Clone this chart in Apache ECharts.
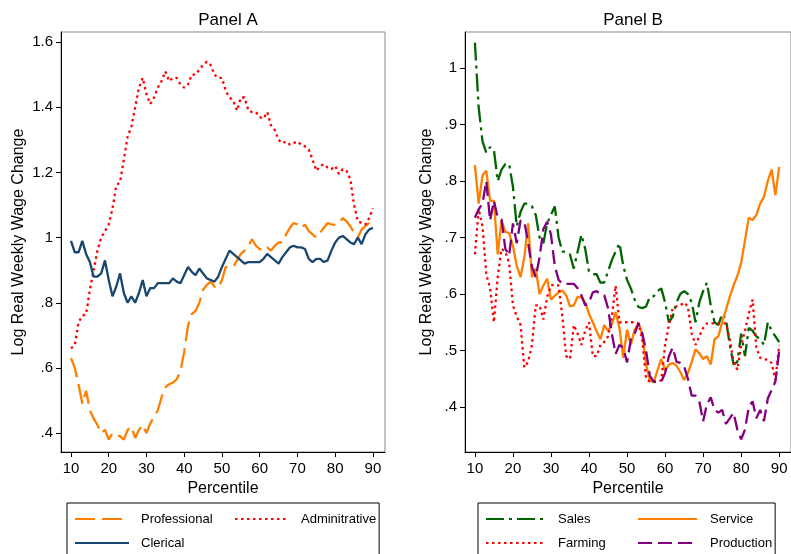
<!DOCTYPE html>
<html>
<head>
<meta charset="utf-8">
<script src="https://cdn.jsdelivr.net/npm/echarts@6/dist/echarts.min.js"></script>
<style>
  html, body { margin: 0; padding: 0; background: #fff; }
  #main { width: 791px; height: 554px; }
</style>
</head>
<body>
<div id="main"></div>
<script>
// percentiles on the x axis
var pct = [10, 11, 12, 13, 14, 15, 16, 17, 18, 19,
           20, 21, 22, 23, 24, 25, 26, 27, 28, 29,
           30, 31, 32, 33, 34, 35, 36, 37, 38, 39,
           40, 41, 42, 43, 44, 45, 46, 47, 48, 49,
           50, 51, 52, 53, 54, 55, 56, 57, 58, 59,
           60, 61, 62, 63, 64, 65, 66, 67, 68, 69,
           70, 71, 72, 73, 74, 75, 76, 77, 78, 79,
           80, 81, 82, 83, 84, 85, 86, 87, 88, 89, 90];

// Panel A
var professional = [0.63, 0.60, 0.55, 0.49, 0.53, 0.47, 0.445, 0.425, 0.40, 0.41,
    0.38, 0.40, 0.395, 0.39, 0.38, 0.41, 0.42, 0.385, 0.41, 0.425,
    0.40, 0.43, 0.45, 0.47, 0.51, 0.54, 0.55, 0.555, 0.565, 0.59,
    0.65, 0.73, 0.765, 0.775, 0.80, 0.84, 0.855, 0.865, 0.85, 0.845,
    0.87, 0.91, 0.91, 0.91, 0.93, 0.95, 0.96, 0.975, 0.995, 0.975,
    0.965, 0.96, 0.97, 0.96, 0.975, 0.985, 0.985, 1.01, 1.03, 1.045,
    1.04, 1.03, 1.04, 1.02, 1.01, 1.0, 1.015, 1.03, 1.045, 1.04,
    1.04, 1.045, 1.06, 1.05, 1.035, 1.015, 1.0, 1.025, 1.035, 1.045, 1.06];
var adminitrative = [0.66, 0.67, 0.74, 0.76, 0.765, 0.84, 0.90, 0.96, 1.00, 1.02,
    1.04, 1.09, 1.16, 1.17, 1.24, 1.31, 1.34, 1.40, 1.46, 1.49,
    1.44, 1.41, 1.43, 1.46, 1.48, 1.51, 1.48, 1.49, 1.49, 1.47,
    1.46, 1.47, 1.50, 1.50, 1.515, 1.53, 1.54, 1.53, 1.50, 1.49,
    1.49, 1.45, 1.43, 1.42, 1.39, 1.43, 1.43, 1.39, 1.385, 1.385,
    1.37, 1.365, 1.385, 1.345, 1.33, 1.30, 1.29, 1.295, 1.285, 1.29,
    1.295, 1.285, 1.28, 1.27, 1.24, 1.205, 1.22, 1.225, 1.215, 1.21,
    1.22, 1.195, 1.21, 1.205, 1.18, 1.10, 1.05, 1.045, 1.04, 1.06, 1.09];
var clerical = [0.99, 0.955, 0.955, 0.99, 0.95, 0.925, 0.88, 0.88, 0.89, 0.93,
    0.87, 0.82, 0.85, 0.89, 0.83, 0.80, 0.82, 0.80, 0.83, 0.87,
    0.82, 0.845, 0.845, 0.86, 0.86, 0.86, 0.86, 0.875, 0.865, 0.86,
    0.885, 0.91, 0.895, 0.885, 0.905, 0.89, 0.875, 0.87, 0.865, 0.88,
    0.91, 0.935, 0.96, 0.95, 0.94, 0.93, 0.92, 0.925, 0.925, 0.925,
    0.925, 0.935, 0.95, 0.94, 0.93, 0.92, 0.94, 0.955, 0.97, 0.975,
    0.97, 0.97, 0.965, 0.935, 0.925, 0.935, 0.935, 0.925, 0.93, 0.96,
    0.985, 1.0, 1.005, 0.995, 0.985, 0.98, 1.0, 0.98, 1.01, 1.025, 1.03];

// Panel B
var sales = [1.045, 0.93, 0.87, 0.85, 0.86, 0.855, 0.80, 0.82, 0.83, 0.83,
    0.79, 0.72, 0.745, 0.76, 0.76, 0.755, 0.74, 0.70, 0.69, 0.725,
    0.74, 0.755, 0.70, 0.675, 0.675, 0.67, 0.645, 0.675, 0.705, 0.68,
    0.64, 0.635, 0.635, 0.62, 0.62, 0.64, 0.66, 0.675, 0.69, 0.65,
    0.625, 0.61, 0.59, 0.577, 0.575, 0.578, 0.595, 0.596, 0.605, 0.61,
    0.585, 0.55, 0.56, 0.585, 0.60, 0.605, 0.60, 0.585, 0.55, 0.585,
    0.605, 0.62, 0.58, 0.55, 0.545, 0.565, 0.555, 0.51, 0.475, 0.48,
    0.53, 0.49, 0.54, 0.535, 0.525, 0.52, 0.51, 0.55, 0.535, 0.525, 0.515];
var service = [0.828, 0.76, 0.81, 0.818, 0.765, 0.765, 0.67, 0.73, 0.71, 0.708,
    0.685, 0.65, 0.63, 0.665, 0.725, 0.63, 0.645, 0.60, 0.615, 0.627,
    0.59, 0.597, 0.603, 0.606, 0.598, 0.578, 0.58, 0.595, 0.594, 0.585,
    0.565, 0.55, 0.534, 0.52, 0.545, 0.535, 0.546, 0.568, 0.54, 0.487,
    0.537, 0.51, 0.537, 0.548, 0.53, 0.475, 0.447, 0.444, 0.465, 0.485,
    0.465, 0.475, 0.478, 0.473, 0.462, 0.448, 0.46, 0.48, 0.502, 0.495,
    0.485, 0.49, 0.475, 0.52, 0.525, 0.55, 0.572, 0.595, 0.615, 0.632,
    0.655, 0.695, 0.735, 0.731, 0.74, 0.76, 0.772, 0.80, 0.82, 0.775, 0.825];
var farming = [0.67, 0.75, 0.72, 0.635, 0.61, 0.55, 0.63, 0.68, 0.675, 0.655,
    0.58, 0.56, 0.545, 0.47, 0.48, 0.51, 0.58, 0.58, 0.555, 0.595,
    0.615, 0.617, 0.615, 0.56, 0.49, 0.485, 0.545, 0.53, 0.51, 0.535,
    0.55, 0.49, 0.49, 0.51, 0.515, 0.525, 0.56, 0.615, 0.55, 0.55,
    0.55, 0.55, 0.55, 0.548, 0.52, 0.45, 0.445, 0.445, 0.445, 0.447,
    0.51, 0.545, 0.575, 0.578, 0.58, 0.585, 0.578, 0.53, 0.51, 0.525,
    0.54, 0.548, 0.548, 0.548, 0.548, 0.548, 0.548, 0.52, 0.48, 0.466,
    0.51, 0.535, 0.565, 0.59, 0.505, 0.487, 0.485, 0.483, 0.478, 0.448, 0.51];
var production = [0.735, 0.75, 0.76, 0.80, 0.73, 0.765, 0.735, 0.732, 0.68, 0.668,
    0.725, 0.69, 0.73, 0.728, 0.69, 0.648, 0.63, 0.665, 0.715, 0.728,
    0.705, 0.65, 0.625, 0.618, 0.618, 0.618, 0.618, 0.61, 0.598, 0.58,
    0.585, 0.603, 0.605, 0.60, 0.598, 0.575, 0.53, 0.494, 0.51, 0.505,
    0.479, 0.52, 0.53, 0.548, 0.53, 0.50, 0.455, 0.445, 0.445, 0.445,
    0.46, 0.49, 0.505, 0.48, 0.478, 0.472, 0.45, 0.42, 0.42, 0.41,
    0.375, 0.405, 0.417, 0.395, 0.39, 0.395, 0.37, 0.38, 0.39, 0.36,
    0.343, 0.36, 0.40, 0.41, 0.38, 0.395, 0.375, 0.415, 0.43, 0.445, 0.50];

// tick labels
var xTicks = [10, 20, 30, 40, 50, 60, 70, 80, 90];
var yTicksA = [0.4, 0.6, 0.8, 1, 1.2, 1.4, 1.6];
var yTicksB = [0.4, 0.5, 0.6, 0.7, 0.8, 0.9, 1];

var FONT = '"Liberation Sans", Arial, sans-serif';

function pairs(vals) {
    return pct.map(function (p, i) { return [p, vals[i]]; });
}
function fmtY(v) {
    var s = String(Math.round(v * 10) / 10);
    return s.indexOf('0.') === 0 ? s.slice(1) : s;
}

function xAxisFor(idx, min, max) {
    return {
        type: 'value', gridIndex: idx, min: min, max: max,
        name: 'Percentile', nameLocation: 'middle', nameGap: 27,
        nameTextStyle: { fontFamily: FONT, fontSize: 16, color: '#000' },
        axisLine: { lineStyle: { color: '#000', width: 1 } },
        axisTick: { customValues: xTicks, length: 5, lineStyle: { color: '#000' } },
        axisLabel: { customValues: xTicks, margin: 9, fontFamily: FONT, fontSize: 15, color: '#000' },
        splitLine: { show: false }
    };
}
function yAxisFor(idx, min, max, ticks, gap) {
    return {
        type: 'value', gridIndex: idx, min: min, max: max,
        name: 'Log Real Weekly Wage Change', nameLocation: 'middle', nameGap: gap,
        nameTextStyle: { fontFamily: FONT, fontSize: 16, color: '#000' },
        axisLine: { show: true, lineStyle: { color: '#000', width: 1 } },
        axisTick: { show: true, customValues: ticks, length: 5, lineStyle: { color: '#000' } },
        axisLabel: { customValues: ticks, margin: 8, fontFamily: FONT, fontSize: 15, color: '#000',
            formatter: fmtY },
        splitLine: { show: false }
    };
}
function line(name, vals, idx, color, dash) {
    return {
        name: name, type: 'line', xAxisIndex: idx, yAxisIndex: idx,
        data: pairs(vals), symbol: 'none', smooth: false,
        lineStyle: { color: color, width: 2.3, type: dash, cap: 'butt' },
        itemStyle: { color: color }
    };
}
function legendFor(names, left, iconW, textPad, colW) {
    return {
        data: names, left: left, top: 503, width: 340,
        orient: 'horizontal', itemWidth: iconW, itemHeight: 14, itemGap: 10,
        padding: [9, 3, 9, 7],
        borderColor: '#000', borderWidth: 1, borderRadius: 0,
        itemStyle: { opacity: 0 },
        formatter: function (n) {
            return (names.indexOf(n) % 2 === 0 ? '{c1|' : '{c2|') + n + '}';
        },
        textStyle: {
            fontFamily: FONT, fontSize: 13, color: '#000', lineHeight: 14,
            rich: {
                c1: { width: colW, padding: [0, 0, 0, textPad], fontFamily: FONT, fontSize: 13, lineHeight: 14 },
                c2: { padding: [0, 0, 0, textPad], fontFamily: FONT, fontSize: 13, lineHeight: 14 }
            }
        }
    };
}

var ORANGE = '#ff7f00', RED = '#ff0000', NAVY = '#1a476f', GREEN = '#006400', PURPLE = '#800080';

var option = {
    animation: false,
    backgroundColor: '#fff',
    title: [
        { text: 'Panel A', left: 223, top: 7, textAlign: 'center',
          textStyle: { fontFamily: FONT, fontSize: 17, fontWeight: 'normal', color: '#000' } },
        { text: 'Panel B', left: 628, top: 7, textAlign: 'center',
          textStyle: { fontFamily: FONT, fontSize: 17, fontWeight: 'normal', color: '#000' } }
    ],
    grid: [
        { left: 61, top: 32, width: 324, height: 420, show: true, borderColor: '#888', borderWidth: 1, backgroundColor: '#fff' },
        { left: 465, top: 32, width: 330, height: 420, show: true, borderColor: '#888', borderWidth: 1, backgroundColor: '#fff' }
    ],
    xAxis: [xAxisFor(0, 7.35, 93.2), xAxisFor(1, 7.4, 93.1)],
    yAxis: [yAxisFor(0, 0.342, 1.631, yTicksA, 34), yAxisFor(1, 0.3204, 1.0637, yTicksB, 30)],
    legend: [
        legendFor(['Professional', 'Adminitrative', 'Clerical'], 67, 54, 7, 83),
        legendFor(['Sales', 'Service', 'Farming', 'Production'], 478, 59, 8, 69)
    ],
    series: [
        line('Professional', professional, 0, ORANGE, [20, 7]),
        line('Adminitrative', adminitrative, 0, RED, [2.5, 3.5]),
        line('Clerical', clerical, 0, NAVY, 'solid'),
        line('Sales', sales, 1, GREEN, [18, 5, 3, 5]),
        line('Service', service, 1, ORANGE, 'solid'),
        line('Farming', farming, 1, RED, [2.5, 3.5]),
        line('Production', production, 1, PURPLE, [14, 6])
    ]
};

var myChart = echarts.init(document.getElementById('main'));
myChart.setOption(option);
</script>
</body>
</html>
